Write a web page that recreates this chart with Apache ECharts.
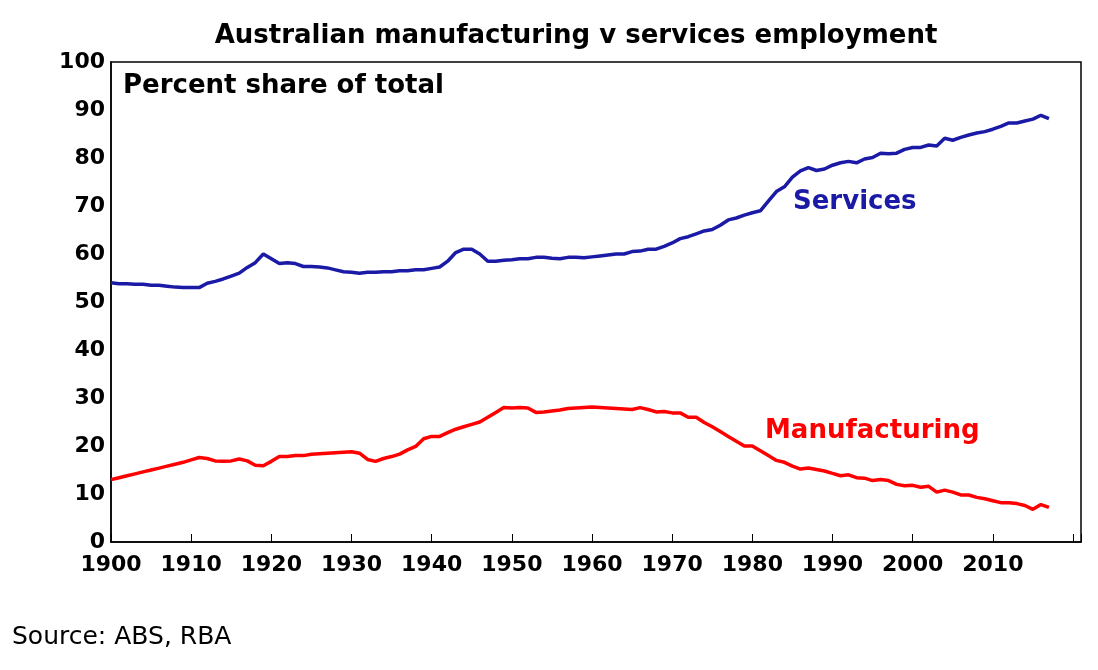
<!DOCTYPE html>
<html><head><meta charset="utf-8">
<script src="https://cdn.jsdelivr.net/npm/echarts@6/dist/echarts.min.js"></script>
<style>body{margin:0;background:#fff}#cnv{width:1098px;height:670px}</style>
</head><body><div id="cnv"></div>
<script>
var startYear = 1900;
var services = [54,53.8,53.8,53.7,53.7,53.5,53.5,53.3,53.1,53,53,53,53.9,54.3,54.8,55.4,56,57.2,58.2,60,
59,58,58.2,58,57.4,57.4,57.3,57.1,56.7,56.3,56.2,56,56.2,56.2,56.3,56.3,56.5,56.5,56.7,56.7,
57,57.3,58.5,60.3,61,61,60,58.5,58.5,58.7,58.8,59,59,59.3,59.3,59.1,59,59.3,59.3,59.2,
59.4,59.6,59.8,60,60,60.5,60.6,61,61,61.6,62.3,63.2,63.6,64.2,64.8,65.1,66,67.1,67.5,68.1,
68.6,69,71,73,74,76,77.3,78,77.4,77.7,78.5,79,79.3,79,79.8,80.1,81,80.9,81,81.8,
82.2,82.2,82.7,82.5,84.1,83.7,84.3,84.8,85.2,85.5,86,86.6,87.3,87.3,87.7,88.1,88.9,88.2];
var manufacturing = [13,13.4,13.8,14.2,14.6,15,15.4,15.8,16.2,16.6,17.1,17.6,17.4,16.9,16.8,16.9,17.3,16.9,16,15.9,
16.8,17.8,17.8,18,18,18.3,18.4,18.5,18.6,18.7,18.8,18.5,17.2,16.8,17.4,17.8,18.3,19.2,19.9,21.5,
22,22,22.8,23.5,24,24.5,25,26,27,28,27.9,28,27.9,27,27.1,27.3,27.5,27.8,27.9,28,
28.1,28,27.9,27.8,27.7,27.6,28,27.6,27.1,27.2,26.9,26.9,26,26,24.9,24,23,22,21,20,
20,19,18,17,16.6,15.8,15.2,15.4,15.1,14.8,14.3,13.8,14,13.4,13.3,12.8,13,12.8,12,11.7,
11.8,11.4,11.6,10.4,10.8,10.4,9.8,9.8,9.3,9,8.6,8.2,8.2,8,7.6,6.8,7.8,7.2];

function pairs(arr){ return arr.map(function(v,i){ return [startYear+i, v]; }); }
var font = '"DejaVu Sans", sans-serif';
var chart = echarts.init(document.getElementById('cnv'));
chart.setOption({
  animation: false,
  title: { text: 'Australian manufacturing v services employment', left: 571, textAlign: 'center', top: 18,
    textStyle: { fontFamily: font, fontSize: 26, fontWeight: 'bold', color: '#000' } },
  grid: { left: 111, right: 17, top: 62, bottom: 128, show: true, borderColor: '#000', borderWidth: 1.5 },
  xAxis: { type: 'value', min: 1900, max: 2021, interval: 10,
    axisLine: { show: true, lineStyle: { color: '#000', width: 1.5 } },
    axisTick: { inside: true, length: 8, lineStyle: { color: '#000' } },
    splitLine: { show: false },
    axisLabel: { formatter: function(v){ return v > 2010 ? '' : v; }, margin: 12,
      fontFamily: font, fontSize: 22, fontWeight: 'bold', color: '#000' } },
  yAxis: { type: 'value', min: 0, max: 100, interval: 10,
    axisLine: { show: true, lineStyle: { color: '#000', width: 1.5 } },
    axisTick: { show: false }, splitLine: { show: false },
    axisLabel: { margin: 6, fontFamily: font, fontSize: 22, fontWeight: 'bold', color: '#000' } },
  graphic: [
    { type: 'text', left: 123, top: 73, style: { text: 'Percent share of total', font: 'bold 26px ' + font, fill: '#000' } },
    { type: 'text', left: 793, top: 189, style: { text: 'Services', font: 'bold 26px ' + font, fill: '#1a1aa6' } },
    { type: 'text', left: 765, top: 418, style: { text: 'Manufacturing', font: 'bold 26px ' + font, fill: '#ff0000' } },
    { type: 'text', left: 12, top: 625, style: { text: 'Source: ABS, RBA', font: '25px ' + font, fill: '#000' } }
  ],
  series: [
    { name: 'Services', type: 'line', data: pairs(services), showSymbol: false, lineStyle: { color: '#1a1aa6', width: 3.5 } },
    { name: 'Manufacturing', type: 'line', data: pairs(manufacturing), showSymbol: false, lineStyle: { color: '#ff0000', width: 3.5 } }
  ]
});
</script></body></html>
